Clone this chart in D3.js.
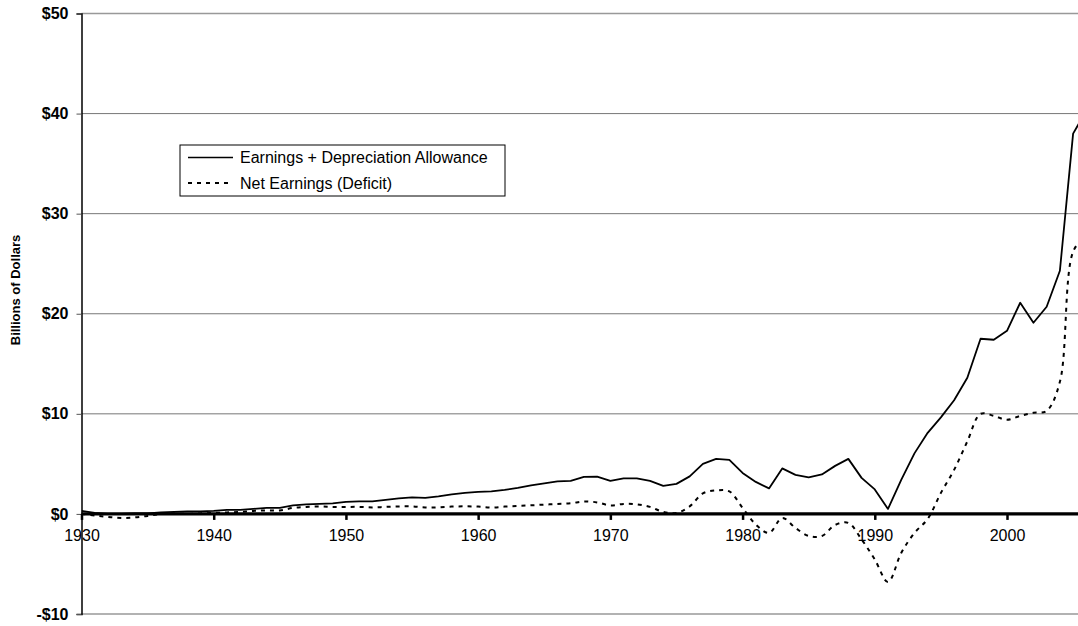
<!DOCTYPE html>
<html>
<head>
<meta charset="utf-8">
<script src="https://cdn.jsdelivr.net/npm/d3@7"></script>
<style>
  body { margin: 0; background: #fff; }
  svg { display: block; font-family: Arial, "Liberation Sans", sans-serif; }
</style>
</head>
<body>
<svg id="chart" width="1078" height="626"></svg>
<script>
var years = d3.range(1930, 2007);

// earnings + depreciation allowance, billions
var earningsDep = [
  0.3, 0.1, 0.0, 0.0, 0.05, 0.05, 0.15, 0.2, 0.25, 0.25,
  0.3, 0.4, 0.4, 0.5, 0.6, 0.6, 0.85, 0.95, 1.0, 1.05,
  1.2, 1.25, 1.25, 1.4, 1.55, 1.65, 1.6, 1.75, 1.95, 2.1,
  2.2, 2.25, 2.4, 2.6, 2.85, 3.05, 3.25, 3.3, 3.7, 3.72,
  3.3, 3.55, 3.55, 3.3, 2.8, 3.0, 3.75, 5.0, 5.5, 5.4,
  4.1, 3.2, 2.55, 4.55, 3.9, 3.65, 3.95, 4.8, 5.5, 3.6,
  2.45, 0.5, 3.4, 6.05, 8.1, 9.65, 11.35, 13.6, 17.5, 17.4,
  18.3, 21.1, 19.1, 20.7, 24.3, 38.0, 40.3
];

// net earnings (deficit), billions
var netEarnings = [
  0.0, -0.15, -0.3, -0.4, -0.35, -0.2, 0.0, 0.05, 0.0, 0.05,
  0.1, 0.15, 0.2, 0.3, 0.35, 0.35, 0.6, 0.7, 0.75, 0.7,
  0.7, 0.7, 0.65, 0.7, 0.75, 0.75, 0.65, 0.66, 0.73, 0.76,
  0.73, 0.63, 0.73, 0.8, 0.86, 0.93, 1.0, 1.06, 1.25, 1.15,
  0.85, 1.0, 0.95, 0.7, 0.2, 0.1, 0.75, 2.05, 2.35, 2.25,
  0.6, -1.05, -1.9, -0.4, -1.4, -2.2, -2.2, -1.1, -0.9, -2.55,
  -4.55, -6.8, -3.9, -1.9, -0.5, 2.1, 4.4, 7.25, 10.0, 9.8,
  9.4, 9.8, 10.1, 10.3, 13.2, 26.2, 27.9
];

var yTicks = [-10, 0, 10, 20, 30, 40, 50];
var xTicks = [1930, 1940, 1950, 1960, 1970, 1980, 1990, 2000];
var seriesNames = ['Earnings + Depreciation Allowance', 'Net Earnings (Deficit)'];

var width = 1078;
var height = 626;
var plotLeft = 81.5;

var svg = d3.select('#chart');

var x = d3.scaleLinear().domain([1930, 2000]).range([plotLeft, 1007]);
var y = d3.scaleLinear().domain([-10, 50]).range([614, 13.5]);

// gridlines
svg.append('g').selectAll('line')
  .data(yTicks.filter(function(d) { return d !== 0; }))
  .enter().append('line')
  .attr('x1', plotLeft).attr('x2', width)
  .attr('y1', function(d) { return y(d); })
  .attr('y2', function(d) { return y(d); })
  .attr('stroke', function(d) { return (d === 50 || d === -10) ? '#999' : '#777'; })
  .attr('stroke-width', function(d) { return (d === 50 || d === -10) ? 1.5 : 1; });

// y axis
var yAxis = svg.append('g')
  .attr('transform', 'translate(' + plotLeft + ',0)')
  .call(d3.axisLeft(y).tickValues(yTicks).tickSize(5).tickPadding(8)
    .tickFormat(function(d) { return d < 0 ? '-$' + (-d) : '$' + d; }));
yAxis.select('.domain').attr('stroke', '#000').attr('stroke-width', 1.5);
yAxis.selectAll('.tick line').attr('stroke', '#555');
yAxis.selectAll('text')
  .attr('font-size', '16px')
  .attr('font-weight', 'bold')
  .attr('fill', '#000')
  .attr('font-family', 'Arial, "Liberation Sans", sans-serif');

// clip for the lines (the chart runs off the right edge)
svg.append('clipPath').attr('id', 'plotClip')
  .append('rect').attr('x', plotLeft).attr('y', 0).attr('width', width - plotLeft).attr('height', height);

var plot = svg.append('g').attr('clip-path', 'url(#plotClip)');

var solidLine = d3.line()
  .x(function(d, i) { return x(years[i]); })
  .y(function(d) { return y(d); });

var dottedLine = d3.line()
  .x(function(d, i) { return x(years[i]); })
  .y(function(d) { return y(d); })
  .curve(d3.curveCatmullRom);

plot.append('path')
  .datum(netEarnings)
  .attr('d', dottedLine)
  .attr('fill', 'none')
  .attr('stroke', '#000')
  .attr('stroke-width', 2)
  .attr('stroke-dasharray', '4,5');

plot.append('path')
  .datum(earningsDep)
  .attr('d', solidLine)
  .attr('fill', 'none')
  .attr('stroke', '#000')
  .attr('stroke-width', 1.8)
  .attr('stroke-linejoin', 'round');

// x axis sits on the zero line
var xAxis = svg.append('g')
  .attr('transform', 'translate(0,' + y(0) + ')')
  .call(d3.axisBottom(x).tickValues(xTicks).tickSize(6).tickPadding(10).tickFormat(d3.format('d')));
xAxis.select('.domain').remove();
xAxis.selectAll('.tick line').attr('stroke', '#000').attr('stroke-width', 2.5);
xAxis.selectAll('text')
  .attr('font-size', '16px')
  .attr('fill', '#000')
  .attr('font-family', 'Arial, "Liberation Sans", sans-serif');

svg.append('line')
  .attr('x1', plotLeft).attr('x2', width)
  .attr('y1', y(0)).attr('y2', y(0))
  .attr('stroke', '#000')
  .attr('stroke-width', 3.2);

// axis title
svg.append('text')
  .attr('transform', 'translate(20,290) rotate(-90)')
  .attr('text-anchor', 'middle')
  .attr('font-size', '13px')
  .attr('font-weight', 'bold')
  .text('Billions of Dollars');

// legend
var legend = svg.append('g').attr('transform', 'translate(180,145)');
legend.append('rect')
  .attr('width', 325).attr('height', 51)
  .attr('fill', '#fff')
  .attr('stroke', '#000')
  .attr('stroke-width', 1);

var rows = legend.selectAll('.row').data(seriesNames).enter().append('g')
  .attr('class', 'row')
  .attr('transform', function(d, i) { return 'translate(0,' + (12.5 + i * 25.5) + ')'; });

rows.append('line')
  .attr('x1', 8).attr('x2', 53)
  .attr('stroke', '#000')
  .attr('stroke-width', function(d, i) { return i === 0 ? 1.5 : 2; })
  .attr('stroke-dasharray', function(d, i) { return i === 0 ? null : '4,5'; });

rows.append('text')
  .attr('x', 60)
  .attr('dy', '0.36em')
  .attr('font-size', '16px')
  .text(function(d) { return d; });
</script>
</body>
</html>
